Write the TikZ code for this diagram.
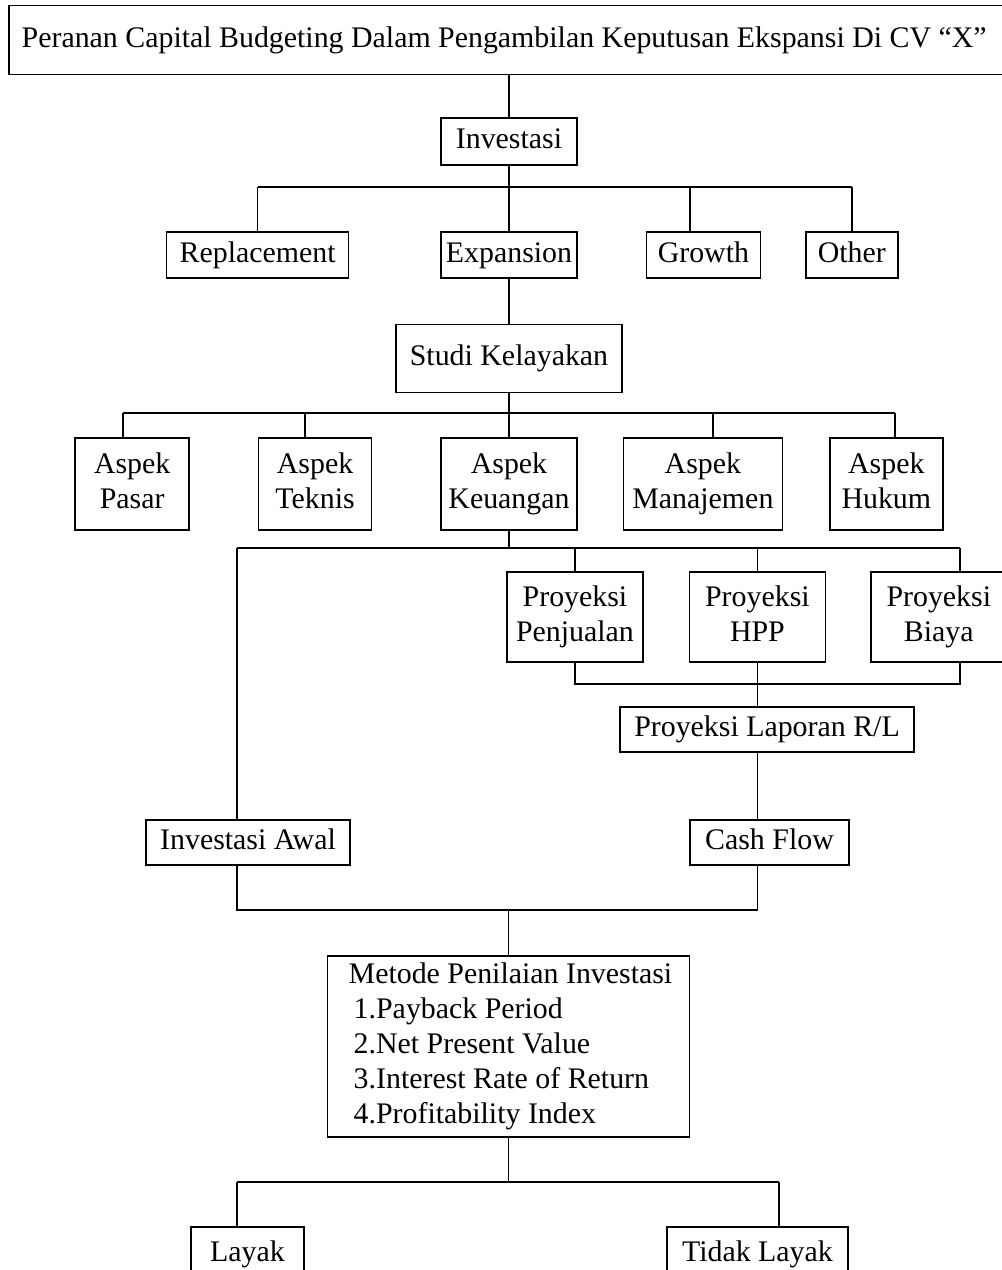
\documentclass[tikz,border=0pt]{standalone}
\usepackage{fontspec}
\setmainfont{Liberation Serif}
\usepackage{tikz}
\usetikzlibrary{positioning}
\tikzset{
  box/.style={draw, line width=0.8pt, inner sep=0pt, align=center, font=\fontsize{17}{20}\selectfont},
  line1/.style={box, text height=12pt, text depth=4pt},
  link/.style={line width=0.8pt},
  aspek/.style={box, minimum height=1.84cm, text height=32pt, text depth=4pt},
  proyeksi/.style={box, minimum width=2.72cm, minimum height=1.80cm, text height=32pt, text depth=4pt},
}

\begin{document}
\begin{tikzpicture}
  \useasboundingbox (0,0) rectangle (20.02,-25.40);

  \node[line1, draw=none, anchor=west, inner xsep=0.24cm, minimum height=1.36cm] (title) at (0.18,-0.80)
    {Peranan Capital Budgeting Dalam Pengambilan Keputusan Ekspansi Di CV “X”};
  \draw[link] (title.north west) rectangle ([xshift=1cm]title.south east);
  \node[line1, minimum width=2.72cm, minimum height=0.94cm] (investasi) at (10.18,-2.83) {Investasi};

  \node[line1, minimum width=2.72cm, minimum height=0.92cm] (expansion) at (10.18,-5.10) {Expansion};
  \node[line1, minimum width=3.64cm, minimum height=0.92cm] (replacement) [left=1.82cm of expansion] {Replacement};
  \node[line1, minimum width=2.28cm, minimum height=0.92cm] (growth) [right=1.36cm of expansion] {Growth};
  \node[line1, minimum width=1.84cm, minimum height=0.92cm] (other) [right=0.88cm of growth] {Other};

  \node[line1, minimum width=4.52cm, minimum height=1.36cm] (studi) [below=0.90cm of expansion] {Studi Kelayakan};

  \node[aspek, minimum width=2.72cm] (keuangan) [below=0.88cm of studi] {Aspek\\Keuangan};
  \node[aspek, minimum width=2.26cm] (teknis) [left=1.36cm of keuangan] {Aspek\\Teknis};
  \node[aspek, minimum width=2.28cm] (pasar) [left=1.36cm of teknis] {Aspek\\Pasar};
  \node[aspek, minimum width=3.18cm] (manajemen) [right=0.90cm of keuangan] {Aspek\\Manajemen};
  \node[aspek, minimum width=2.26cm] (hukum) [right=0.92cm of manajemen] {Aspek\\Hukum};

  \node[proyeksi] (penjualan) at (11.50,-12.34) {Proyeksi\\Penjualan};
  \node[proyeksi] (hpp) [right=0.90cm of penjualan] {Proyeksi\\HPP};
  \node[proyeksi] (biaya) [right=0.88cm of hpp] {Proyeksi\\Biaya};

  \node[line1, minimum width=5.88cm, minimum height=0.90cm] (laporan) at (15.34,-14.59) {Proyeksi Laporan R/L};
  \node[line1, minimum width=3.18cm, minimum height=0.90cm] (cashflow) at (15.39,-16.85) {Cash Flow};
  \node[line1, minimum width=4.08cm, minimum height=0.90cm] (invawal) at (4.96,-16.85) {Investasi Awal};

  \node[box, align=left, minimum width=7.24cm, minimum height=3.62cm] (metode) at (10.17,-20.93)
    {\hspace*{0.08cm}Metode Penilaian Investasi\\
     \hspace*{0.18cm}1.Payback Period\\
     \hspace*{0.18cm}2.Net Present Value\\
     \hspace*{0.18cm}3.Interest Rate of Return\\
     \hspace*{0.18cm}4.Profitability Index};

  \node[line1, minimum width=2.26cm, minimum height=1.08cm] (layak) at (4.95,-25.08) {Layak};
  \node[line1, minimum width=3.62cm, minimum height=1.08cm] (tidak) at (15.15,-25.08) {Tidak Layak};

  \coordinate (bus1) at (0,-3.74);
  \coordinate (bus2) at (0,-8.26);
  \coordinate (bus3) at (0,-10.96);
  \coordinate (bus4) at (0,-13.68);
  \coordinate (bus5) at (0,-18.20);
  \coordinate (bus6) at (0,-23.64);
  \coordinate (dgrowth) at (13.80,-3.74);
  \coordinate (dpasar) at (2.46,-8.26);
  \coordinate (dteknis) at (6.10,-8.26);
  \coordinate (dmanajemen) at (14.26,-8.26);
  \coordinate (dhukum) at (17.90,-8.26);
  \coordinate (dawal) at (4.74,-10.96);
  \coordinate (dbiaya) at (19.20,-10.96);
  \coordinate (dlayak) at (4.74,-23.64);
  \coordinate (dtidak) at (15.58,-23.64);

  \draw[link] (investasi.north |- title.south) -- (investasi.north);
  \draw[link] (investasi) -- (investasi |- bus1);
  \draw[link] (replacement |- bus1) -- (other |- bus1);
  \foreach \n in {replacement, expansion, other}
    \draw[link] (\n |- bus1) -- (\n);
  \draw[link] (dgrowth) -- (dgrowth |- growth.north);

  \draw[link] (expansion) -- (studi);

  \draw[link] (studi) -- (studi |- bus2);
  \draw[link] (dpasar) -- (dhukum);
  \draw[link] (keuangan |- bus2) -- (keuangan);
  \foreach \d/\n in {dpasar/pasar, dteknis/teknis, dmanajemen/manajemen, dhukum/hukum}
    \draw[link] (\d) -- (\d |- \n.north);

  \draw[link] (keuangan) -- (keuangan |- bus3);
  \draw[link] (dawal) -- (dbiaya);
  \draw[link] (penjualan |- bus3) -- (penjualan);
  \draw[link] (hpp |- bus3) -- (hpp);
  \draw[link] (dbiaya) -- (dbiaya |- biaya.north);
  \draw[link] (dawal) -- (dawal |- invawal.north);

  \draw[link] (penjualan) -- (penjualan |- bus4) -- (dbiaya |- bus4) -- (dbiaya |- biaya.south);
  \draw[link] (hpp) -- (hpp |- laporan.north);
  \draw[link] (hpp |- laporan.south) -- (hpp |- cashflow.north);

  \draw[link] (dawal |- invawal.south) -- (dawal |- bus5) -- (hpp |- bus5) -- (hpp |- cashflow.south);
  \draw[link] (metode |- bus5) -- (metode);

  \draw[link] (metode) -- (metode |- bus6);
  \draw[link] (dlayak) -- (dtidak);
  \draw[link] (dlayak) -- (dlayak |- layak.north);
  \draw[link] (dtidak) -- (dtidak |- tidak.north);
\end{tikzpicture}
\end{document}
